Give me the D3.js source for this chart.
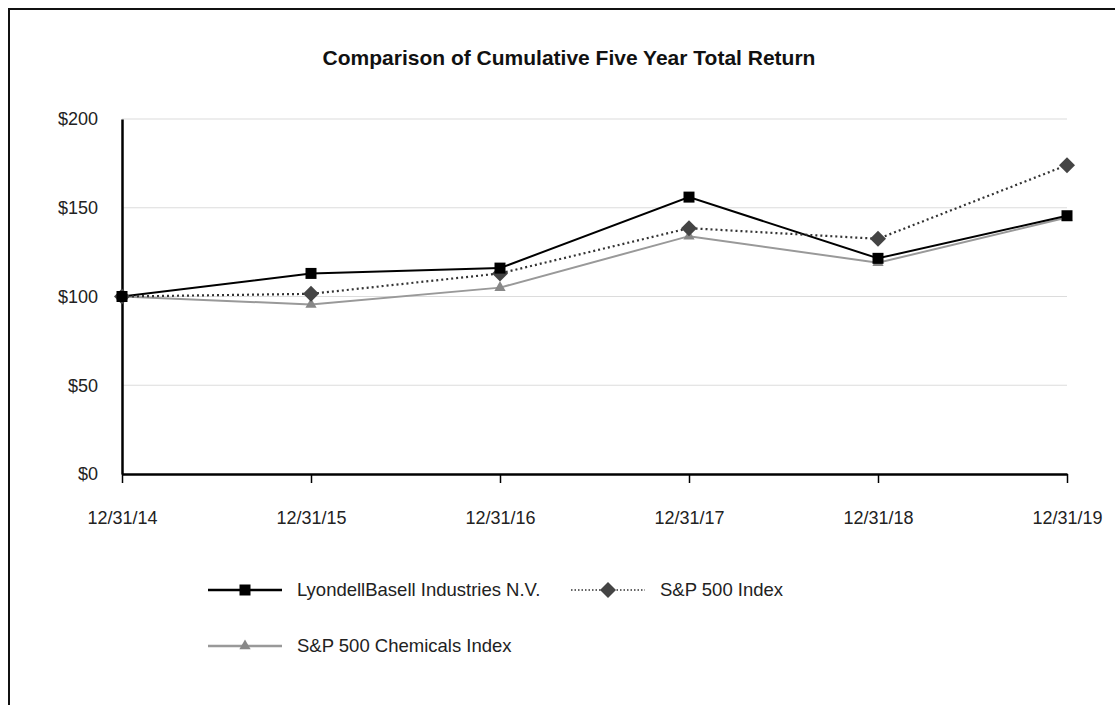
<!DOCTYPE html>
<html><head><meta charset="utf-8">
<script src="https://cdn.jsdelivr.net/npm/d3@7"></script>
<style>html,body{margin:0;padding:0;background:#fff;}svg{display:block;font-family:"Liberation Sans",Arial,sans-serif;}</style>
</head><body>
<script>
const dates = ["12/31/14","12/31/15","12/31/16","12/31/17","12/31/18","12/31/19"];
const lyb = [100, 113, 116, 156, 121.5, 145.5];
const sp500 = [100, 101.5, 113, 138.5, 132.5, 174];
const chem = [100, 95.5, 105, 134, 119, 144.5];
const yTicks = [0, 50, 100, 150, 200];
const seriesNames = ["LyondellBasell Industries N.V.", "S&P 500 Index", "S&P 500 Chemicals Index"];

const W = 1115, H = 705;
const svg = d3.select("body").append("svg").attr("width", W).attr("height", H);
svg.append("rect").attr("x", 9).attr("y", 9).attr("width", W + 20).attr("height", H + 20)
  .attr("fill", "none").attr("stroke", "#111").attr("stroke-width", 2);

svg.append("text").attr("x", 569).attr("y", 65).attr("text-anchor", "middle")
  .attr("font-size", 21).attr("font-weight", "bold").attr("fill", "#111")
  .text("Comparison of Cumulative Five Year Total Return");

const x = d3.scalePoint().domain(dates).range([122, 1067]);
const y = d3.scaleLinear().domain([0, 200]).range([474, 119]);

// grid
svg.append("g").selectAll("line").data(yTicks.filter(d => d > 0)).join("line")
  .attr("x1", 122).attr("x2", 1067).attr("y1", d => y(d)).attr("y2", d => y(d))
  .attr("stroke", "#dcdcdc").attr("stroke-width", 1.2);

// y axis
const ya = svg.append("g").attr("transform", "translate(122,0)")
  .call(d3.axisLeft(y).tickValues(yTicks).tickFormat(d => "$" + d).tickSize(0).tickPadding(24));
ya.select(".domain").attr("stroke", "#000").attr("stroke-width", 2.5);
ya.selectAll("text").attr("font-size", 18).attr("fill", "#222").attr("font-family", "Liberation Sans, Arial, sans-serif");

// x axis
const xa = svg.append("g").attr("transform", "translate(0,474)")
  .call(d3.axisBottom(x).tickSize(9).tickSizeOuter(0).tickPadding(28));
xa.select(".domain").attr("stroke", "#000").attr("stroke-width", 2.5);
xa.selectAll(".tick line").attr("stroke", "#000").attr("stroke-width", 1.5);
xa.selectAll("text").attr("font-size", 18).attr("fill", "#222").attr("font-family", "Liberation Sans, Arial, sans-serif");

const line = d3.line().x((d, i) => x(dates[i])).y(d => y(d));

// chemicals
svg.append("path").attr("d", line(chem)).attr("fill", "none").attr("stroke", "#999").attr("stroke-width", 2);
// lyb
svg.append("path").attr("d", line(lyb)).attr("fill", "none").attr("stroke", "#000").attr("stroke-width", 2);
// sp500
svg.append("path").attr("d", line(sp500)).attr("fill", "none").attr("stroke", "#333").attr("stroke-width", 2.2).attr("stroke-dasharray", "2,3");

const tri = d3.symbol().type(d3.symbolTriangle).size(55);
const sq = d3.symbol().type(d3.symbolSquare).size(121);
const diaPath = "M0,-8L8,0L0,8L-8,0Z";

svg.append("g").selectAll("path").data(chem).join("path")
  .attr("d", tri).attr("fill", "#888")
  .attr("transform", (d, i) => `translate(${x(dates[i])},${y(d)})`);
svg.append("g").selectAll("path").data(sp500).join("path")
  .attr("d", diaPath).attr("fill", "#444")
  .attr("transform", (d, i) => `translate(${x(dates[i])},${y(d)})`);
svg.append("g").selectAll("path").data(lyb).join("path")
  .attr("d", sq).attr("fill", "#000")
  .attr("transform", (d, i) => `translate(${x(dates[i])},${y(d)})`);

// legend
const lg = svg.append("g").attr("font-size", 18.5).attr("fill", "#222");
function legendItem(x0, yc, color, dash, sym, symColor, text) {
  lg.append("line").attr("x1", x0).attr("x2", x0 + 74).attr("y1", yc).attr("y2", yc)
    .attr("stroke", color).attr("stroke-width", dash ? 1.5 : 2.5).attr("stroke-dasharray", dash || null);
  lg.append("path").attr("d", sym).attr("fill", symColor).attr("transform", `translate(${x0 + 37},${yc})`);
  lg.append("text").attr("x", x0 + 89).attr("y", yc + 6).text(text);
}
legendItem(208, 590, "#000", null, sq, "#000", seriesNames[0]);
legendItem(571, 590, "#333", "1.5,2", diaPath, "#444", seriesNames[1]);
legendItem(208, 646, "#999", null, tri, "#888", seriesNames[2]);
</script>
</body></html>
